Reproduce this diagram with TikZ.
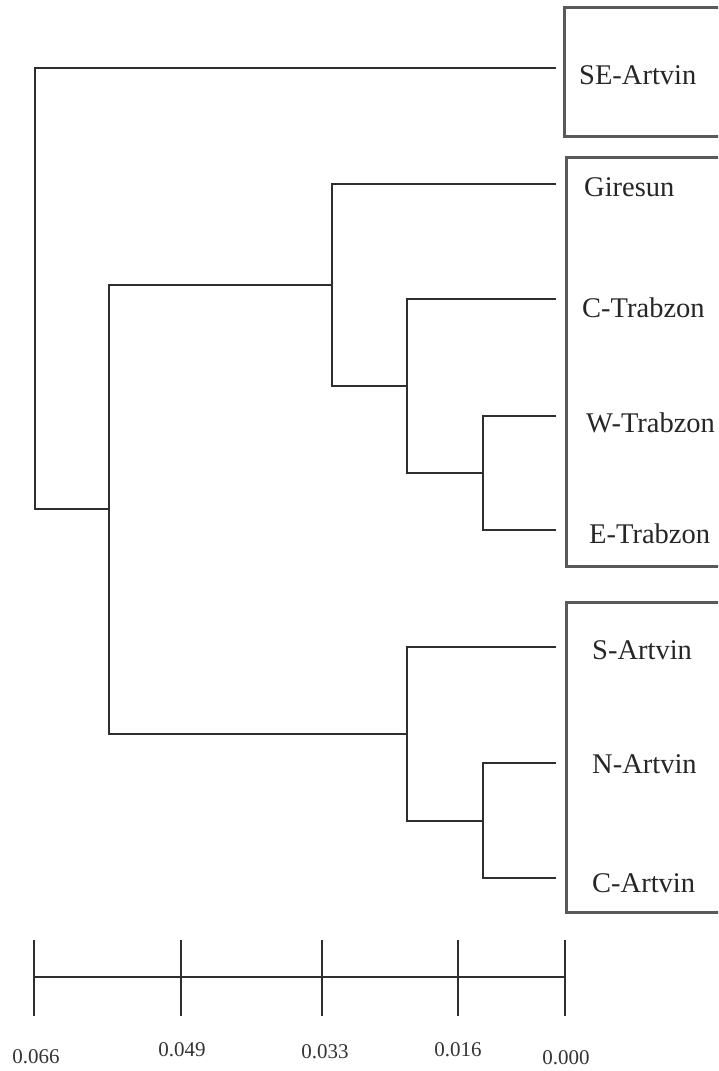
\documentclass[tikz,border=0pt]{standalone}
\usepackage{fontspec}
\setmainfont{Liberation Serif}
\begin{document}
\begin{tikzpicture}[x=1pt,y=-1pt,
  branch/.style={draw=black!82,line width=2.4pt},
  groupbox/.style={draw=black!65,line width=3pt},
  leaflabel/.style={anchor=west,inner sep=0pt,font=\fontsize{28.5}{30}\selectfont,text height=19pt,text depth=0pt,text=black!85},
  scalelabel/.style={inner sep=0pt,font=\fontsize{21}{24}\selectfont,text=black!80},
  scaletick/.style={draw=black!82,line width=2.2pt}]
\useasboundingbox (0,0) rectangle (718,1071);
\clip (0,0) rectangle (718,1071);
% group boxes
\draw[groupbox] (564,7) rectangle (740,136);
\draw[groupbox] (566,157) rectangle (740,566);
\draw[groupbox] (566,602) rectangle (740,912);
% leaf tips
\coordinate (l1) at (556,68);
\coordinate (l2) at (556,184);
\coordinate (l3) at (556,299);
\coordinate (l4) at (556,416);
\coordinate (l5) at (556,530);
\coordinate (l6) at (556,647);
\coordinate (l7) at (556,763);
\coordinate (l8) at (556,878);
% labels
\node[leaflabel] (t1) at (579,75) {SE-Artvin};
\node[leaflabel] (t2) at (584,187) {Giresun};
\node[leaflabel] (t3) at (582,308) {C-Trabzon};
\node[leaflabel] (t4) at (586,423) {W-Trabzon};
\node[leaflabel] (t5) at (589,534) {E-Trabzon};
\node[leaflabel] (t6) at (592,650) {S-Artvin};
\node[leaflabel] (t7) at (592,764) {N-Artvin};
\node[leaflabel] (t8) at (592,883) {C-Artvin};
% internal nodes
\coordinate (a) at (483,473);
\coordinate (b) at (407,386);
\coordinate (c) at (332,285);
\coordinate (d) at (483,821);
\coordinate (e) at (407,734);
\coordinate (f) at (109,509);
\coordinate (g) at (35,290);
% branches
\draw[branch] (l4) -| (a) |- (l5);
\draw[branch] (l3) -| (b) |- (a);
\draw[branch] (l2) -| (c) |- (b);
\draw[branch] (l7) -| (d) |- (l8);
\draw[branch] (l6) -| (e) |- (d);
\draw[branch] (c) -| (f) |- (e);
\draw[branch] (l1) -| (g) |- (f);
% scale bar
\coordinate (s0) at (34,977);
\coordinate (s1) at (181,977);
\coordinate (s2) at (322,977);
\coordinate (s3) at (458,977);
\coordinate (s4) at (565,977);
\draw[branch] (s0) -- (s4);
\foreach \p in {s0,s1,s2,s3,s4}
  \draw[scaletick] ([yshift=-39pt]\p) -- ([yshift=37pt]\p);
\node[scalelabel] (v0) at (36,1057) {0.066};
\node[scalelabel] (v1) at (182,1050) {0.049};
\node[scalelabel] (v2) at (325,1052) {0.033};
\node[scalelabel] (v3) at (458,1050) {0.016};
\node[scalelabel] (v4) at (566,1058) {0.000};
\end{tikzpicture}
\end{document}
